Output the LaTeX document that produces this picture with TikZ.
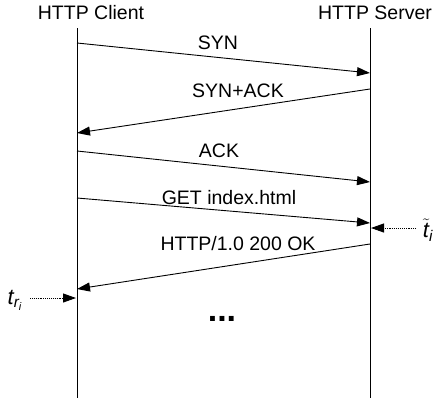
\documentclass[tikz,border=0pt]{standalone}
\usepackage{amsmath}
\usepackage{fontspec}
\setmainfont{Liberation Sans}
\usetikzlibrary{arrows.meta}
\begin{document}
\begin{tikzpicture}[x=1pt,y=-1pt,
  lbl/.style={font=\fontsize{19.5}{22}\selectfont, inner sep=0pt},
  life/.style={line width=0.9pt},
  msg/.style={line width=0.9pt, -{Triangle[length=13pt,width=9pt]}},
  tmark/.style={line width=0.9pt, densely dotted, -{Triangle[length=13pt,width=9pt]}}]
\useasboundingbox (0,0) rectangle (434,400);
% headers
\node[lbl] (cl) at (91,13) {HTTP Client};
\node[lbl] (sv) at (375,13) {HTTP Server};
% lifelines
\coordinate (ct) at (77,28); \coordinate (cb) at (77,398);
\coordinate (st) at (370,28); \coordinate (sb) at (370,398);
\draw[life] (ct) -- (cb);
\draw[life] (st) -- (sb);
% message endpoints
\coordinate (a1) at (77,43);  \coordinate (b1) at (370,73);
\coordinate (a2) at (370,89); \coordinate (b2) at (77,133);
\coordinate (a3) at (77,151); \coordinate (b3) at (370,182);
\coordinate (a4) at (77,198); \coordinate (b4) at (370,223);
\coordinate (a5) at (370,244);\coordinate (b5) at (77,289);
\draw[msg] (a1) -- (b1);
\draw[msg] (a2) -- (b2);
\draw[msg] (a3) -- (b3);
\draw[msg] (a4) -- (b4);
\draw[msg] (a5) -- (b5);
\node[lbl] (l1) at (218,43) {SYN};
\node[lbl] (l2) at (238,91) {SYN+ACK};
\node[lbl] (l3) at (219,151) {ACK};
\node[lbl] (l4) at (229,198) {GET index.html};
\node[lbl] (l5) at (238,244) {HTTP/1.0 200 OK};
% time marks
\node[lbl, font=\fontsize{22}{24}\selectfont] (ti) at (428,230) {$\tilde{\textit{t}}_{\textit{i}}$};
\coordinate (tis) at (416,228); \coordinate (tie) at (371,228);
\draw[tmark] (tis) -- (tie);
\node[lbl, font=\fontsize{22}{24}\selectfont] (tr) at (15,300) {$\textit{t}_{\textit{r}_{\textit{i}}}$};
\coordinate (trs) at (30,298); \coordinate (tre) at (76,298);
\draw[tmark] (trs) -- (tre);
\node[lbl, font=\fontsize{34}{36}\selectfont\bfseries] (dots) at (222,319) {...};
\end{tikzpicture}
\end{document}
